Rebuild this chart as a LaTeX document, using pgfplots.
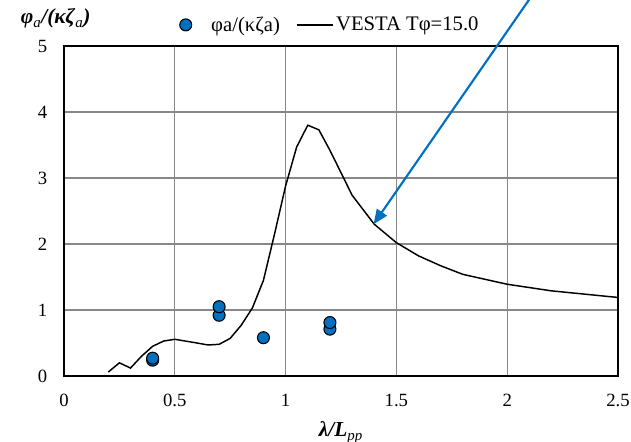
\documentclass[border=0pt]{standalone}
\usepackage{fontspec}
\setmainfont{Liberation Serif}
\usepackage{pgfplots}
\pgfplotsset{compat=1.18}
\usetikzlibrary{arrows.meta}
\definecolor{vblue}{RGB}{0,112,192}
\definecolor{gridgray}{RGB}{136,136,136}
\pgfplotsset{longline legend/.style={legend image code/.code={\draw[##1] (0cm,0cm) -- (0.95cm,0cm);}},
  shifted mark legend/.style={legend image code/.code={\path[draw=none,fill=none] (0cm,0cm) rectangle (0.6cm,0.01cm);\draw[##1] plot coordinates {(0cm,0cm)};}}}
\begin{document}
\begin{tikzpicture}
\useasboundingbox (-48pt,-49.5pt) rectangle (425.25pt,282pt);
\begin{axis}[
  at={(0pt,0pt)}, anchor=south west,
  scale only axis, width=415.5pt, height=247.5pt,
  xmin=0, xmax=2.5, ymin=0, ymax=5,
  xtick={0,0.5,1,1.5,2,2.5}, ytick={0,1,2,3,4,5},
  xticklabels={0,0.5,1,1.5,2,2.5},
  major tick length=0pt,
  grid=major,
  major grid style={gridgray, line width=0.8pt},
  axis line style={black, line width=1.1pt},
  font=\fontsize{14}{16}\selectfont,
  /pgf/number format/assume math mode=true,
  xticklabel style={yshift=-10pt},
  yticklabel style={xshift=-9pt},
  clip=false,
  every axis y label/.style={at={(rel axis cs:-0.015,1.083)}, anchor=center, font=\fontsize{16}{18}\selectfont},
  every axis x label/.style={at={(rel axis cs:0.5,-0.172)}, anchor=center, font=\fontsize{16}{18}\selectfont},
  ylabel={\textbf{\textit{φ}}\textsubscript{\textit{a}}\textbf{\textit{/(κζ}}\textsubscript{\textit{a}}\textbf{\textit{)}}},
  xlabel={\textbf{\textit{λ/L}}\textsubscript{\textit{pp}}},
  legend style={at={(rel axis cs:0.481,1.064)}, anchor=center, draw=none, fill=none,
    font=\fontsize{15.5}{17}\selectfont, legend columns=2,
    /tikz/every even column/.append style={column sep=10pt}},
]
\addplot[only marks, mark=*, mark size=4.5pt, mark options={fill=vblue, draw=black, line width=0.8pt}, shifted mark legend]
  coordinates {(0.4,0.24) (0.4,0.27) (0.7,0.92) (0.7,1.05) (0.9,0.58) (1.2,0.71) (1.2,0.81)};
\addlegendentry{φa/(κζa)}
\addplot[black, line width=1.1pt, mark=none, longline legend]
  coordinates {
  (0.2,0.06) (0.25,0.2) (0.3,0.12) (0.35,0.3) (0.4,0.45) (0.45,0.53) (0.5,0.556)
  (0.6,0.5) (0.65,0.47) (0.7,0.48) (0.75,0.57) (0.8,0.77) (0.85,1.03) (0.9,1.45)
  (0.95,2.15) (1.0,2.88) (1.05,3.47) (1.1,3.80) (1.15,3.73) (1.2,3.42) (1.3,2.74)
  (1.4,2.30) (1.5,2.02) (1.6,1.82) (1.7,1.67) (1.8,1.54) (2.0,1.39) (2.2,1.29) (2.5,1.19)};
\addlegendentry{VESTA Tφ=15.0}
\draw[-{Triangle[length=11pt,width=9pt]}, vblue, line width=1.6pt]
  (axis cs:2.119,5.8) -- (axis cs:1.397,2.30);
\end{axis}
\end{tikzpicture}
\end{document}
